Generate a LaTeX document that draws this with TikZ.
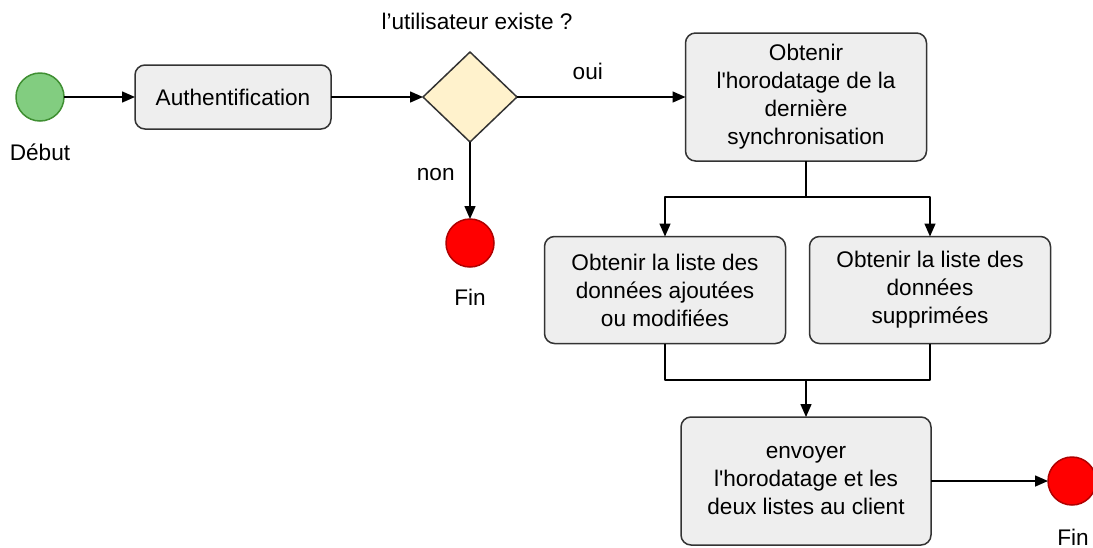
\documentclass[tikz,border=0pt]{standalone}
\usepackage{fontspec}
\setmainfont{Liberation Sans}
\usetikzlibrary{shapes.geometric,arrows.meta}
\definecolor{vertfond}{HTML}{82CD80}
\definecolor{vertbord}{HTML}{3F8F32}
\definecolor{rougebord}{HTML}{B00000}
\definecolor{jaunefond}{HTML}{FFF2CC}
\definecolor{grisfond}{HTML}{EEEEEE}
\definecolor{grisbord}{HTML}{333333}
\begin{document}
\begin{tikzpicture}[x=0.5pt, y=-0.5pt, font=\fontsize{11.3}{14}\selectfont, line join=round, >={Triangle[length=6.5pt,width=5.5pt]},
	etape/.style={draw=grisbord, fill=grisfond, line width=0.75pt, rounded corners=5pt, align=center, outer sep=0pt, minimum width=120.5pt, minimum height=53.5pt},
	debutnoeud/.style={circle, draw=vertbord, fill=vertfond, line width=0.75pt, minimum size=24pt, inner sep=0pt, outer sep=0pt},
	finnoeud/.style={circle, draw=rougebord, fill=red, line width=0.75pt, minimum size=24pt, inner sep=0pt, outer sep=0pt},
	testnoeud/.style={diamond, draw=grisbord, fill=jaunefond, line width=0.75pt, minimum width=47pt, minimum height=45pt, inner sep=0pt, outer sep=0pt},
	lien/.style={line width=0.75pt}]
				\useasboundingbox (0,0) rectangle (1093,547);
				\node[debutnoeud] (debut) at (40,97) {};
				\node (ldebut) at (40,152) {Début};
				\node[etape, minimum width=98pt, minimum height=32pt] (auth) at (233,97) {Authentification};
				\node[testnoeud] (test) at (470,97) {};
				\node (ltest) at (477,21) {l’utilisateur existe ?};
				\node[finnoeud] (fin1) at (470,243) {};
				\node (lfin1) at (470,297) {Fin};
				\node[etape, minimum height=64pt] (horo) at (806,97) {Obtenir\\l\textquotesingle horodatage de la\\dernière\\synchronisation};
				\node[etape] (ajout) at (665,290) {Obtenir la liste des\\données ajoutées\\ou modifiées};
				\node[etape] (suppr) at (930,290) {Obtenir la liste des\\données\\supprimées};
				\node[etape, minimum width=125pt, minimum height=64pt] (envoi) at (806,481) {envoyer\\l\textquotesingle horodatage et les\\deux listes au client};
				\node[finnoeud] (fin2) at (1072,481) {};
				\node (lfin2) at (1073,537) {Fin};
				\coordinate (split) at (806,197);
				\coordinate (merge) at (806,380);
				\draw[lien,->] (debut) -- (auth);
				\draw[lien,->] (auth) -- (test);
				\draw[lien,->] (test) -- (horo) node[pos=0.42, above=5pt] (loui) {oui};
				\draw[lien,->] (test) -- (fin1) node[pos=0.42, left=4pt] (lnon) {non};
				\draw[lien] (horo) -- (split);
				\draw[lien,->] (split) -| (ajout);
				\draw[lien,->] (split) -| (suppr);
				\draw[lien] (ajout) |- (merge);
				\draw[lien] (suppr) |- (merge);
				\draw[lien,->] (merge) -- (envoi);
				\draw[lien,->] (envoi) -- (fin2);
			\end{tikzpicture}
\end{document}
